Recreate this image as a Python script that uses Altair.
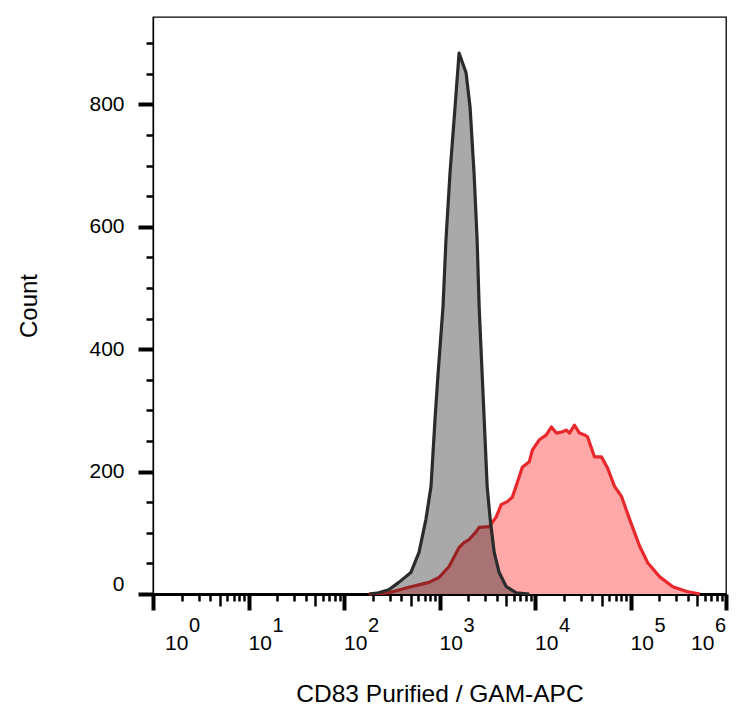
import altair as alt
import pandas as pd

FONT = "Liberation Sans"

# gray histogram (control), outline
gray_x = [185, 230, 294, 375, 501, 610, 721, 815, 897, 964, 1089, 1169, 1288,
          1455, 1603, 1897, 2089, 2301, 2477, 2600, 2799, 2938, 3155, 3396,
          3741, 4217, 5000, 6368, 8710]
gray_count = [0, 2, 7, 19, 35, 68, 122, 176, 285, 358, 470, 579, 688,
              796, 884, 852, 796, 688, 579, 470, 358, 285, 176, 122,
              68, 35, 12, 2, 0]

# red histogram (CD83 stained)
red_x = [182, 294, 478, 776, 988, 1259, 1603, 1808, 2042, 2421, 2600, 3311,
         3926, 4427, 5117, 5781, 6516, 7362, 8710, 9376, 11100, 13150, 14860,
         16750, 19370, 21330, 22950, 25890, 29240, 32980, 35480, 42000, 49770,
         57540, 68080, 80720, 97950, 124700, 151400, 202300, 277300, 389000,
         533000]
red_count = [0, 2, 11, 19, 27, 45, 76, 84, 89, 102, 109, 110,
             126, 146, 151, 158, 182, 207, 216, 235, 252, 260, 273,
             263, 265, 268, 263, 276, 263, 260, 257, 224, 224,
             206, 176, 159, 122, 78, 51, 28, 12, 4,
             0]

decade_val = [1, 10, 100, 1000, 10000, 100000, 1000000]
decade_exp = ["0", "1", "2", "3", "4", "5", "6"]

x_ticks = [m * 10 ** d for d in range(6) for m in range(1, 10)] + [10 ** 6]
y_ticks = list(range(0, 901, 50))

gray = pd.DataFrame({"value": gray_x, "count": gray_count})
red = pd.DataFrame({"value": red_x, "count": red_count})
labels = pd.DataFrame({"value": decade_val, "exp": decade_exp, "base": "10"})

xscale = alt.Scale(type="log", domain=[1, 1000000], nice=False)
yscale = alt.Scale(domain=[0, 943], nice=False, zero=True)

majors = "indexof([1,10,100,1000,10000,100000,1000000], datum.value) >= 0"
fives = "indexof([5,50,500,5000,50000,500000], datum.value) >= 0"

x_axis = alt.Axis(
    values=x_ticks,
    labels=False,
    title="CD83 Purified / GAM-APC",
    titlePadding=70,
    titleFontSize=24.5,
    domainWidth=3,
    tickSize={"condition": [{"test": majors, "value": 16},
                            {"test": fives, "value": 12}], "value": 7},
    tickWidth={"condition": [{"test": majors, "value": 4}], "value": 2.5},
)
y_axis = alt.Axis(
    values=y_ticks,
    labelExpr="datum.value % 200 === 0 ? datum.label : ''",
    labelFlush=True,
    labelPadding=14,
    title="Count",
    titlePadding=47,
    domainWidth=1.3,
    tickSize={"condition": {"test": "datum.value % 200 === 0", "value": 15}, "value": 7},
    tickWidth={"condition": {"test": "datum.value % 200 === 0", "value": 4}, "value": 2.5},
)

xenc = alt.X("value:Q", scale=xscale, axis=x_axis)
yenc = alt.Y("count:Q", scale=yscale, axis=y_axis)

red_area = alt.Chart(red).mark_area(color="#ffa8a8").encode(xenc, yenc)
red_line = alt.Chart(red).mark_line(
    color="#e8282c", strokeWidth=3.2, strokeJoin="round").encode(xenc, yenc)
gray_area = alt.Chart(gray).mark_area(color="#1e1e1e", opacity=0.38).encode(xenc, yenc)
gray_line = alt.Chart(gray).mark_line(
    color="#2b2b2b", strokeWidth=3.2, strokeJoin="round").encode(xenc, yenc)


def tick_labels(test, dx_base, dx_exp):
    base = alt.Chart(labels).mark_text(
        align="left", baseline="alphabetic", font=FONT, fontSize=21,
        color="black", dx=dx_base
    ).encode(
        xenc,
        y=alt.value(633),
        text="base:N",
    ).transform_filter(test)
    exp = alt.Chart(labels).mark_text(
        align="left", baseline="alphabetic", font=FONT, fontSize=20,
        color="black", dx=dx_exp
    ).encode(
        xenc,
        y=alt.value(615),
        text="exp:N",
    ).transform_filter(test)
    return [base, exp]


label_layers = (
    tick_labels("datum.value == 1", 12, 36)
    + tick_labels("datum.value >= 10 && datum.value <= 100000", 0, 24)
    + tick_labels("datum.value == 1000000", -35, -11)
)

chart = alt.layer(red_area, red_line, gray_area, gray_line, *label_layers).properties(
    width=573,
    height=577,
    padding={"left": 145, "top": 9, "right": 12, "bottom": 112},
    autosize=alt.AutoSizeParams(type="none"),
).configure_view(
    stroke="black", strokeWidth=1.3
).configure_axis(
    labelFont=FONT, titleFont=FONT, labelFontSize=21, titleFontSize=24,
    titleFontWeight="normal", labelColor="black", titleColor="black",
    domainColor="black", tickColor="black", grid=False,
)

chart.save("out.html", embed_options={"renderer": "svg", "actions": False})
